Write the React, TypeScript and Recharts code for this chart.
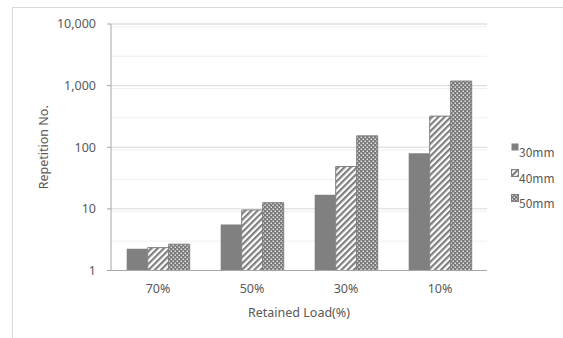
import { BarChart, Bar, XAxis, YAxis, CartesianGrid, Legend } from 'recharts'

const FONT = '"Noto Sans", sans-serif'
const LEGEND_FONT = '"Noto Sans CJK KR", "Noto Sans", sans-serif'

const categories = ['70%', '50%', '30%', '10%']
const mm30 = [2.26, 5.6, 17, 80]
const mm40 = [2.35, 9.6, 48.6, 320]
const mm50 = [2.67, 12.6, 153, 1186]
const seriesNames = ['30mm', '40mm', '50mm']
const majorTicks = [1, 10, 100, 1000, 10000]
const minorTicks = [1, 10, 100, 1000].flatMap((d) => [2, 3, 4, 5, 6, 7, 8, 9].map((m) => m * d))

const data = categories.map((name, i) => ({ name, mm30: mm30[i], mm40: mm40[i], mm50: mm50[i] }))

const fills = ['#808080', 'url(#stripe)', 'url(#dots)']

function LegendBox({ payload }: any) {
  return (
    <div style={{ fontFamily: LEGEND_FONT, fontSize: 12, color: '#595959' }}>
      {(payload || []).map((p: any, i: number) => (
        <div key={p.value} style={{ position: 'relative', height: 25.5 }}>
          <svg width={8} height={8} style={{ position: 'absolute', left: 24, top: 4 }}>
            <rect x={0.5} y={0.5} width={7} height={7} fill={fills[i]} stroke={i ? '#7f7f7f' : 'none'} />
          </svg>
          <span style={{ position: 'absolute', left: 32, top: 0, lineHeight: '25.5px' }}>{p.value}</span>
        </div>
      ))}
    </div>
  )
}

export default function App() {
  return (
    <div style={{ position: 'absolute', left: 0, top: 0, width: 563, height: 338, overflow: 'hidden', background: '#fff', fontFamily: FONT }}>
      <div style={{ position: 'absolute', left: 12, top: 7, width: 700, height: 500, borderLeft: '1px solid #d9d9d9', borderTop: '1px solid #d9d9d9' }} />
      <BarChart
        width={563}
        height={338}
        data={data}
        margin={{ top: 24, right: 16, left: 0, bottom: 0 }}
        barCategoryGap="16.7%"
        barGap={0}
      >
        <defs>
          <pattern id="stripe" patternUnits="userSpaceOnUse" width={4.4} height={4.4} patternTransform="rotate(45)">
            <rect width={4.4} height={4.4} fill="#fff" />
            <rect width={2.2} height={4.4} fill="#7f7f7f" />
          </pattern>
          <pattern id="dots" patternUnits="userSpaceOnUse" width={4} height={4}>
            <rect width={4} height={4} fill="#7a7a7a" />
            <rect x={0.5} y={0.5} width={1.5} height={1.5} fill="#e0e0e0" />
            <rect x={2.5} y={2.5} width={1.5} height={1.5} fill="#e0e0e0" />
          </pattern>
        </defs>
        <CartesianGrid yAxisId="minor" vertical={false} stroke="#efefef" />
        <CartesianGrid vertical={false} stroke="#d9d9d9" />
        <XAxis
          dataKey="name"
          height={67.5}
          tickLine={false}
          tickSize={0}
          tickMargin={14}
          axisLine={{ stroke: '#a6a6a6' }}
          tick={{ fontSize: 12.5, fill: '#595959' }}
          label={{ value: 'Retained Load(%)', position: 'insideBottom', offset: 21.5, fontSize: 12.5, fill: '#595959' }}
        />
        <YAxis
          scale="log"
          domain={[1, 10000]}
          allowDataOverflow
          ticks={majorTicks}
          width={111}
          tickSize={4}
          tickMargin={11}
          axisLine={{ stroke: '#a6a6a6' }}
          tickLine={{ stroke: '#a6a6a6' }}
          tick={{ fontSize: 12.5, fill: '#595959' }}
          tickFormatter={(v: number) => v.toLocaleString('en-US')}
          label={{ value: 'Repetition No.', angle: -90, position: 'insideLeft', offset: 44, fontSize: 12.5, fill: '#595959', style: { textAnchor: 'middle' } }}
        />
        <YAxis yAxisId="minor" hide scale="log" domain={[1, 10000]} allowDataOverflow ticks={minorTicks} />
        <Legend
          layout="vertical"
          align="right"
          verticalAlign="middle"
          content={LegendBox}
          wrapperStyle={{ width: 60, height: 77, top: 139 }}
        />
        <Bar dataKey="mm30" name={seriesNames[0]} fill={fills[0]} isAnimationActive={false} />
        <Bar dataKey="mm40" name={seriesNames[1]} fill={fills[1]} stroke="#7f7f7f" strokeWidth={1} isAnimationActive={false} />
        <Bar dataKey="mm50" name={seriesNames[2]} fill={fills[2]} stroke="#7f7f7f" strokeWidth={1} isAnimationActive={false} />
      </BarChart>
    </div>
  )
}
